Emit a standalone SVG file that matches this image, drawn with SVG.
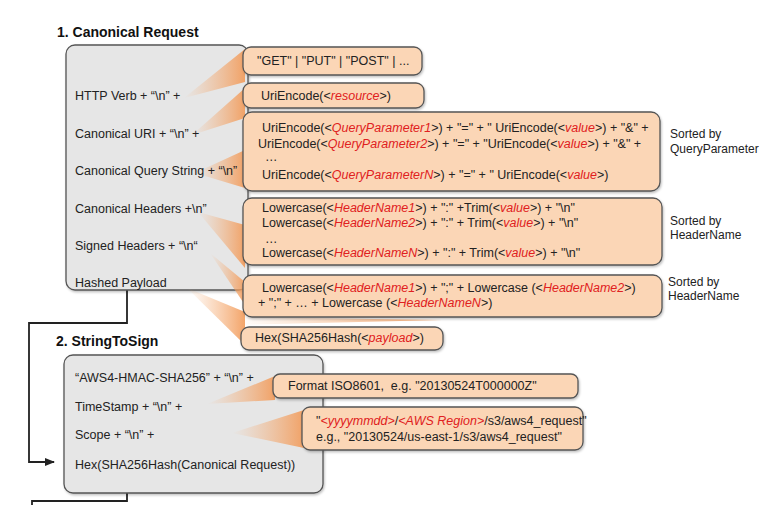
<svg xmlns="http://www.w3.org/2000/svg" width="777" height="505" viewBox="0 0 777 505">
<defs>
<style>
text{font-family:"Liberation Sans",Arial,sans-serif;font-size:12.5px;fill:#222}
.t{font-weight:bold;font-size:14px;fill:#111}
.r{fill:#e02020;font-style:italic}
.g{fill:#e6e6e6;stroke:#555;stroke-width:1.3;filter:url(#sh)}
.o{fill:#fbd6b6;stroke:#555;stroke-width:1.3;filter:url(#sh)}
.w{fill:url(#fan)}
.c{fill:none;stroke:#222;stroke-width:1.8}
.n{font-size:12px}
</style>
<filter id="sh" x="-5%" y="-10%" width="115%" height="130%">
<feDropShadow dx="1" dy="1.5" stdDeviation="1" flood-color="#000" flood-opacity="0.25"/>
</filter>
<linearGradient id="fan" x1="0" y1="0" x2="1" y2="0">
<stop offset="0" stop-color="#f6b07a" stop-opacity="0"/>
<stop offset="1" stop-color="#f29a58" stop-opacity="0.9"/>
</linearGradient>
<marker id="arr" markerWidth="10" markerHeight="8" refX="9" refY="4" orient="auto" markerUnits="userSpaceOnUse">
<path d="M0,0 L10,4 L0,8 Z" fill="#222"/>
</marker>
</defs>
<rect width="777" height="505" fill="#fff"/>

<g id="connectors">
<polyline class="c" points="127,290 127,323 29,323 29,462 54,462" marker-end="url(#arr)"/>
<polyline class="c" points="127,493 127,501 32,501 32,505"/>
</g>

<g id="canonical-request">
<text class="t" x="57" y="37">1. Canonical Request</text>
<rect class="g" x="66" y="45" width="182" height="245" rx="9"/>
</g>

<g id="fans1">
<polygon class="w" points="184,98 245,49 245,82"/>
<polygon class="w" points="192,135 245,88 245,118"/>
<polygon class="w" points="195,173 245,150 245,188"/>
<polygon class="w" points="198,212 245,225 245,268"/>
<polygon class="w" points="210,253 245,282 245,305"/>
<polygon class="w" points="187,288 245,312 245,345"/>
<polygon class="w" points="235,317 442,320 235,325"/>
</g>

<g id="labels1">
<text x="75" y="100">HTTP Verb + “\n” +</text>
<text x="75" y="137.5">Canonical URI + “\n” +</text>
<text x="75" y="175">Canonical Query String + “\n”</text>
<text x="75" y="212.5">Canonical Headers +\n”</text>
<text x="75" y="250">Signed Headers + “\n“</text>
<text x="75" y="287">Hashed Payload</text>
</g>

<g id="http-verb">
<rect class="o" x="243" y="47" width="179" height="28" rx="8"/>
<text x="257" y="65">"GET" | "PUT" | "POST" | ...</text>
</g>

<g id="canonical-uri">
<rect class="o" x="243" y="83" width="181" height="25" rx="8"/>
<text x="261" y="100">UriEncode(&lt;<tspan class="r">resource</tspan>&gt;)</text>
</g>

<g id="query-string">
<rect class="o" x="243" y="112" width="417" height="79" rx="9"/>
<text x="262" y="132">UriEncode(&lt;<tspan class="r">QueryParameter1</tspan>&gt;) + "=" + " UriEncode(&lt;<tspan class="r">value</tspan>&gt;) + "&amp;" +</text>
<text x="258" y="148">UriEncode(&lt;<tspan class="r">QueryParameter2</tspan>&gt;) + "=" + "UriEncode(&lt;<tspan class="r">value</tspan>&gt;) + "&amp;" +</text>
<text x="265" y="161">…</text>
<text x="262" y="179">UriEncode(&lt;<tspan class="r">QueryParameterN</tspan>&gt;) + "=" + " UriEncode(&lt;<tspan class="r">value</tspan>&gt;)</text>
</g>
<g id="note-query">
<text class="n" x="670" y="138">Sorted by</text>
<text class="n" x="670" y="153">QueryParameter</text>
</g>

<g id="headers">
<rect class="o" x="243" y="198" width="419" height="67" rx="9"/>
<text x="262" y="212">Lowercase(&lt;<tspan class="r">HeaderName1</tspan>&gt;) + ":" +Trim(&lt;<tspan class="r">value</tspan>&gt;) + "\n"</text>
<text x="262" y="227">Lowercase(&lt;<tspan class="r">HeaderName2</tspan>&gt;) + ":" + Trim(&lt;<tspan class="r">value</tspan>&gt;) + "\n"</text>
<text x="265" y="243">…</text>
<text x="262" y="257">Lowercase(&lt;<tspan class="r">HeaderNameN</tspan>&gt;) + ":" + Trim(&lt;<tspan class="r">value</tspan>&gt;) + "\n"</text>
</g>
<g id="note-headers">
<text class="n" x="670" y="225">Sorted by</text>
<text class="n" x="670" y="239">HeaderName</text>
</g>

<g id="signed-headers">
<rect class="o" x="243" y="275" width="419" height="42" rx="9"/>
<text x="262" y="292">Lowercase(&lt;<tspan class="r">HeaderName1</tspan>&gt;) + ";" + Lowercase (&lt;<tspan class="r">HeaderName2</tspan>&gt;)</text>
<text x="258" y="307">+ ";" + … + Lowercase (&lt;<tspan class="r">HeaderNameN</tspan>&gt;)</text>
</g>
<g id="note-signed">
<text class="n" x="668" y="286">Sorted by</text>
<text class="n" x="668" y="300">HeaderName</text>
</g>

<g id="payload">
<rect class="o" x="241" y="327" width="202" height="23" rx="8"/>
<text x="255" y="342">Hex(SHA256Hash(&lt;<tspan class="r">payload</tspan>&gt;)</text>
</g>

<g id="string-to-sign">
<text class="t" x="56" y="346">2. StringToSign</text>
<rect class="g" x="64" y="355" width="259" height="138" rx="9"/>
</g>

<g id="fans2">
<polygon class="w" points="207,404 275,376 275,400"/>
<polygon class="w" points="232,433 304,410 304,448"/>
</g>

<g id="labels2">
<text x="75" y="382">“AWS4-HMAC-SHA256” + “\n” +</text>
<text x="75" y="411">TimeStamp + “\n” +</text>
<text x="75" y="439">Scope + “\n” +</text>
<text x="75" y="469">Hex(SHA256Hash(Canonical Request))</text>
</g>

<g id="timestamp">
<rect class="o" x="273" y="374" width="305" height="24" rx="7"/>
<text x="288" y="390" xml:space="preserve">Format ISO8601,  e.g. "20130524T000000Z"</text>
</g>

<g id="scope">
<rect class="o" x="302" y="407" width="281" height="43" rx="8"/>
<text x="316" y="425">"<tspan class="r">&lt;yyyymmdd&gt;</tspan>/<tspan class="r">&lt;AWS Region&gt;</tspan>/s3/aws4_request"</text>
<text x="316" y="441">e.g., "20130524/us-east-1/s3/aws4_request"</text>
</g>
</svg>
